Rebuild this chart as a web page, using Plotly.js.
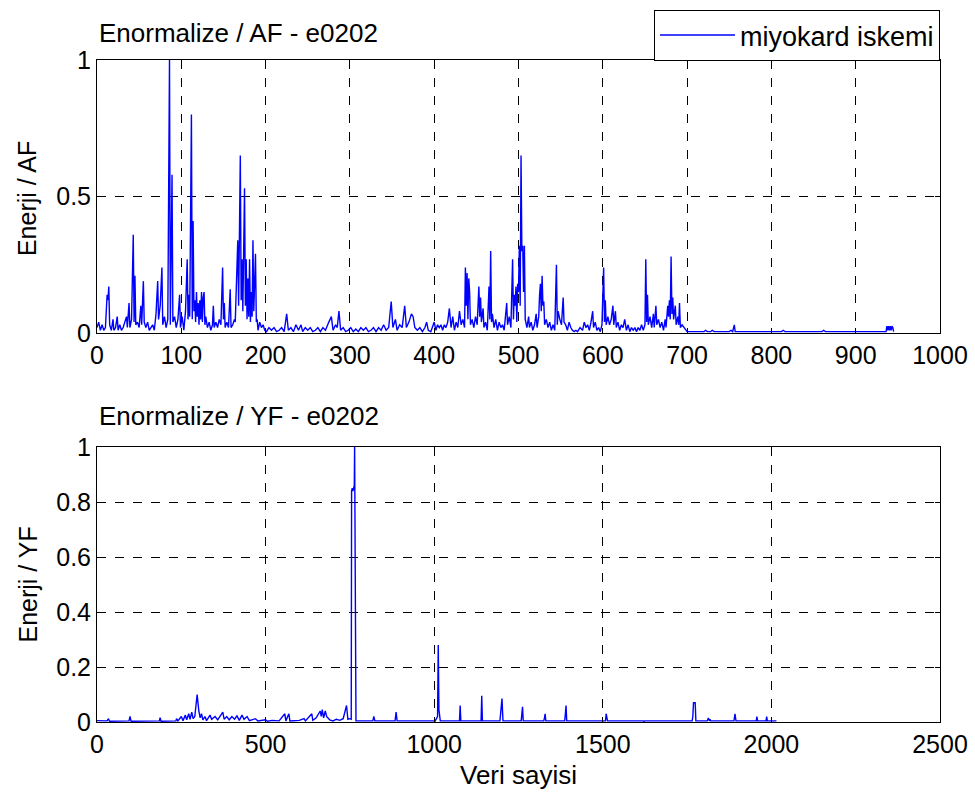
<!DOCTYPE html>
<html>
<head>
<meta charset="utf-8">
<script src="https://cdn.plot.ly/plotly-3.0.1.min.js"></script>
<style>html,body{margin:0;padding:0;background:#fff;}</style>
</head>
<body>
<div id="chart" style="width:975px;height:798px;"></div>
<script>
// Top panel: Enormalize / AF - e0202
const afX = [0,2,4,6,8,10,12,13,14,15,17,19,20,22,24,25,27,29,31,33,35,36,38,39,41,43,44,45,46,48,50,52,53,55,56,58,60,62,64,66,68,70,72,73,75,77,78,80,82,84,86,87,89,90,92,94,96,98,99,101,103,105,107,108,109,110,112,113,114,115,116,117,118,119,120,121,122,123,124,125,126,127,128,129,131,133,135,137,138,139,141,143,145,147,149,150,151,152,154,156,158,159,161,163,164,166,167,168,170,171,172,173,175,176,177,178,179,180,181,182,183,184,185,186,188,189,190,191,193,195,197,199,
201,204,207,210,213,216,219,222,225,227,230,233,236,239,242,244,247,250,253,256,259,262,265,268,271,275,278,280,283,285,287,289,292,295,298,301,304,307,310,313,316,319,322,325,328,331,334,337,340,343,346,349,351,354,356,359,362,365,367,370,373,375,377,380,383,386,389,391,393,396,398,400,402,404,406,408,410,412,414,416,418,420,422,424,426,428,430,432,434,436,437,438,439,440,441,442,443,445,447,449,451,453,454,455,456,458,459,461,463,465,466,467,468,469,471,473,475,477,479,481,483,485,486,487,489,491,493,494,495,496,497,498,499,500,501,502,503,504,505,506,507,508,510,512,513,515,517,519,521,522,524,525,526,527,528,529,530,531,533,535,537,539,541,543,545,546,547,549,551,553,554,556,558,560,562,564,566,568,570,573,576,578,580,582,584,586,588,589,591,593,595,597,599,601,602,603,604,606,608,610,612,613,615,616,618,620,622,624,626,628,630,632,634,636,638,640,642,644,646,648,650,651,652,653,654,656,658,660,661,663,664,666,668,670,672,674,675,677,678,679,680,681,682,683,684,686,687,689,690,691,692,694,696,698,700,
720,722,724,728,730,732,750,752,754,756,757,790,800,812,814,816,860,862,864,900,936,937,938,939,940,941,942,943,944,945];
const afY = [0.02,0.04,0.01,0.03,0.01,0.02,0.14,0.12,0.17,0.03,0.01,0.05,0.01,0.02,0.06,0.01,0.03,0.01,0.02,0.04,0.06,0.02,0.11,0.02,0.05,0.36,0.04,0.21,0.03,0.04,0.02,0.1,0.03,0.19,0.04,0.02,0.04,0.01,0.02,0.03,0.01,0.07,0.19,0.05,0.1,0.24,0.03,0.06,0.02,0.05,1.0,0.03,0.58,0.04,0.06,0.02,0.05,0.14,0.02,0.06,0.01,0.08,0.27,0.05,0.14,0.06,0.8,0.05,0.41,0.08,0.12,0.04,0.15,0.06,0.11,0.03,0.12,0.05,0.15,0.04,0.13,0.15,0.03,0.06,0.02,0.04,0.01,0.03,0.1,0.02,0.04,0.02,0.05,0.03,0.24,0.05,0.11,0.02,0.04,0.02,0.16,0.02,0.03,0.05,0.04,0.2,0.34,0.1,0.65,0.12,0.27,0.08,0.53,0.1,0.27,0.05,0.2,0.06,0.27,0.04,0.15,0.06,0.34,0.08,0.29,0.04,0.05,0.01,0.04,0.02,0.03,0.01,
0.005,0.02,0.01,0.02,0.005,0.01,0.02,0.005,0.07,0.01,0.02,0.005,0.03,0.01,0.03,0.005,0.02,0.01,0.02,0.005,0.01,0.02,0.005,0.02,0.01,0.04,0.06,0.01,0.03,0.02,0.08,0.01,0.02,0.005,0.01,0.02,0.005,0.015,0.005,0.02,0.01,0.02,0.005,0.01,0.02,0.005,0.02,0.01,0.03,0.01,0.02,0.115,0.02,0.05,0.01,0.03,0.02,0.1,0.02,0.04,0.07,0.06,0.02,0.01,0.02,0.005,0.02,0.04,0.01,0.005,0.02,0.04,0.01,0.03,0.02,0.03,0.01,0.03,0.02,0.04,0.09,0.02,0.06,0.01,0.04,0.02,0.08,0.03,0.05,0.02,0.24,0.1,0.22,0.05,0.2,0.15,0.03,0.05,0.02,0.06,0.03,0.17,0.06,0.13,0.04,0.09,0.02,0.04,0.01,0.17,0.05,0.3,0.04,0.07,0.02,0.05,0.01,0.04,0.02,0.03,0.01,0.08,0.11,0.03,0.06,0.02,0.27,0.05,0.14,0.1,0.17,0.04,0.18,0.15,0.32,0.1,0.65,0.3,0.32,0.15,0.32,0.05,0.02,0.06,0.02,0.04,0.01,0.03,0.07,0.02,0.06,0.14,0.18,0.08,0.21,0.1,0.115,0.03,0.05,0.02,0.04,0.01,0.03,0.01,0.25,0.03,0.08,0.05,0.03,0.13,0.04,0.03,0.01,0.04,0.02,0.01,0.005,0.01,0.005,0.02,0.01,0.04,0.02,0.03,0.01,0.04,0.08,0.02,0.04,0.01,0.02,0.005,0.03,0.24,0.04,0.12,0.03,0.06,0.03,0.05,0.1,0.03,0.08,0.02,0.04,0.01,0.03,0.02,0.05,0.01,0.03,0.005,0.02,0.01,0.02,0.005,0.02,0.01,0.03,0.01,0.03,0.27,0.04,0.14,0.03,0.06,0.02,0.07,0.02,0.1,0.03,0.05,0.02,0.04,0.01,0.05,0.02,0.1,0.06,0.12,0.05,0.28,0.07,0.13,0.05,0.1,0.03,0.06,0.03,0.11,0.02,0.03,0.02,0.01,0.005,
0.005,0.01,0.005,0.005,0.01,0.005,0.005,0.01,0.005,0.03,0.005,0.005,0.005,0.005,0.01,0.005,0.005,0.01,0.005,0.005,0.005,0.025,0.01,0.025,0.01,0.025,0.01,0.025,0.02,0.005];

// Bottom panel: Enormalize / YF - e0202
const yfX = [0,30,34,37,95,98,101,185,187,190,234,236,240,250,255,262,266,272,276,281,285,290,297,299,302,306,310,314,320,325,335,340,350,358,365,373,377,385,392,400,408,415,422,430,436,445,452,470,477,500,505,520,540,557,560,569,572,600,614,618,637,640,650,662,665,668,672,677,681,690,700,710,720,730,740,744,750,754,755,757,759,761,763,764,766,768,818,821,824,884,887,890,1000,1002,1010,1012,1014,1016,1018,1075,1077,1079,1139,1141,1143,1195,1198,1201,1204,1258,1260,1262,1264,1325,1327,1329,1331,1387,1389,1391,1393,1508,1510,1512,1514,1620,1622,1624,1765,1767,1769,1774,1776,1810,1813,1816,1818,1820,1889,1892,1895,1955,1957,1959,1984,1986,1988,2015];
const yfY = [0.005,0.004,0.012,0.003,0.004,0.02,0.003,0.004,0.016,0.003,0.004,0.012,0.004,0.02,0.005,0.025,0.008,0.03,0.01,0.036,0.012,0.02,0.1,0.07,0.04,0.015,0.03,0.008,0.02,0.005,0.025,0.01,0.02,0.008,0.02,0.036,0.01,0.02,0.008,0.02,0.01,0.022,0.006,0.025,0.01,0.02,0.005,0.012,0.004,0.008,0.003,0.006,0.004,0.03,0.004,0.03,0.004,0.006,0.012,0.004,0.03,0.006,0.015,0.04,0.02,0.045,0.015,0.04,0.02,0.008,0.004,0.01,0.006,0.012,0.06,0.01,0.012,0.01,0.84,0.85,0.84,0.85,0.86,1.0,0.02,0.004,0.004,0.02,0.004,0.004,0.036,0.004,0.004,0.002,0.02,0.28,0.045,0.01,0.004,0.004,0.06,0.004,0.004,0.095,0.004,0.004,0.04,0.085,0.004,0.004,0.03,0.055,0.004,0.004,0.015,0.03,0.004,0.004,0.03,0.06,0.004,0.004,0.03,0.02,0.004,0.004,0.002,0.004,0.004,0.02,0.07,0.07,0.004,0.004,0.015,0.004,0.01,0.004,0.004,0.03,0.004,0.004,0.02,0.004,0.004,0.02,0.004,0.004];

const seriesName = 'miyokard iskemi';
const topTitle = 'Enormalize / AF - e0202';
const bottomTitle = 'Enormalize / YF - e0202';
const topYLabel = 'Enerji / AF';
const bottomYLabel = 'Enerji / YF';
const xLabel = 'Veri sayisi';

const FONT = 'Liberation Sans, Arial, sans-serif';
const fs = 25;

const traces = [
  {x: afX, y: afY, type: 'scatter', mode: 'lines', name: seriesName,
   line: {color: '#0000ff', width: 1.4}, xaxis: 'x', yaxis: 'y', showlegend: true},
  {x: yfX, y: yfY, type: 'scatter', mode: 'lines', name: seriesName,
   line: {color: '#0000ff', width: 1.4}, xaxis: 'x2', yaxis: 'y2', showlegend: false}
];

const axBase = {
  showline: true, linecolor: '#000', linewidth: 1, mirror: 'ticks',
  ticks: 'inside', ticklen: 5, tickcolor: '#000',
  showgrid: true, gridcolor: '#000', griddash: 'dash', gridwidth: 1,
  zeroline: false, tickfont: {family: FONT, size: fs, color: '#000'},
  fixedrange: true, automargin: false
};

const annFont = {family: FONT, size: 26, color: '#000'};

const layout = {
  width: 975, height: 798,
  margin: {l: 97, r: 35, t: 60, b: 76, autoexpand: false},
  paper_bgcolor: '#fff', plot_bgcolor: '#fff',
  font: {family: FONT, size: fs, color: '#000'},
  xaxis: Object.assign({}, axBase, {domain: [0, 1], range: [0, 1000], dtick: 100, tick0: 0, anchor: 'y'}),
  yaxis: Object.assign({}, axBase, {domain: [0.5876, 1], range: [0, 1], dtick: 0.5, tick0: 0, anchor: 'x'}),
  xaxis2: Object.assign({}, axBase, {domain: [0, 1], range: [0, 2500], dtick: 500, tick0: 0, anchor: 'y2',
    title: {text: xLabel, font: {family: FONT, size: 26}, standoff: 8}}),
  yaxis2: Object.assign({}, axBase, {domain: [0, 0.4154], range: [0, 1], dtick: 0.2, tick0: 0, anchor: 'x2'}),
  showlegend: true,
  legend: {x: 1, xanchor: 'right', y: 1.0755, yanchor: 'top', bgcolor: '#fff',
    bordercolor: '#000', borderwidth: 1, font: {family: FONT, size: 27, color: '#000'},
    itemwidth: 75, tracegroupgap: 0},
  annotations: [
    {text: topTitle, xref: 'paper', yref: 'paper', x: 0, y: 1.0408, xanchor: 'left', yanchor: 'middle',
     showarrow: false, font: annFont},
    {text: bottomTitle, xref: 'paper', yref: 'paper', x: 0, y: 0.4622, xanchor: 'left', yanchor: 'middle',
     showarrow: false, font: annFont},
    {text: topYLabel, xref: 'paper', yref: 'paper', x: -0.083, y: 0.79, xanchor: 'center', yanchor: 'middle',
     textangle: -90, showarrow: false, font: {family: FONT, size: fs, color: '#000'}},
    {text: bottomYLabel, xref: 'paper', yref: 'paper', x: -0.083, y: 0.2077, xanchor: 'center', yanchor: 'middle',
     textangle: -90, showarrow: false, font: {family: FONT, size: fs, color: '#000'}}
  ]
};

Plotly.newPlot('chart', traces, layout, {displayModeBar: false, staticPlot: true});
</script>
</body>
</html>
